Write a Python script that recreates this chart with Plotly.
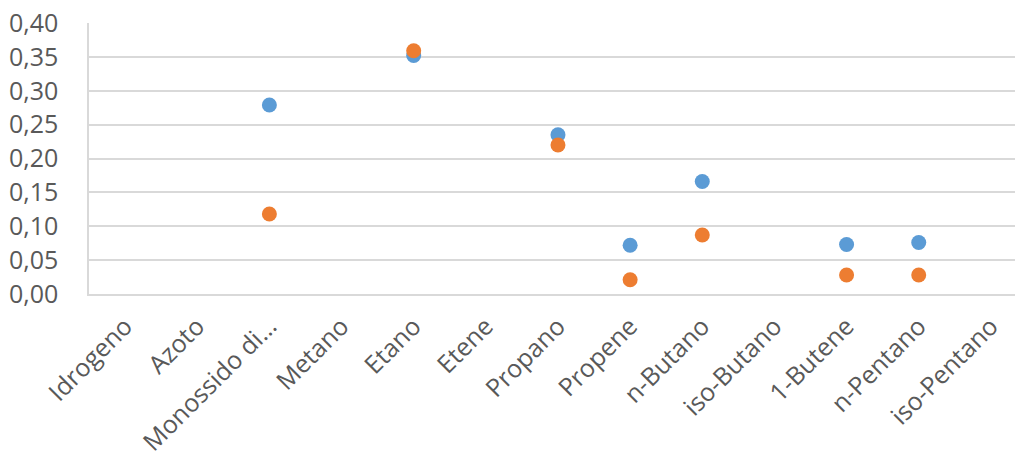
import plotly.graph_objects as go

# Gas components along the category axis
categories = [
    "Idrogeno", "Azoto", "Monossido di carbonio", "Metano", "Etano", "Etene",
    "Propano", "Propene", "n-Butano", "iso-Butano", "1-Butene", "n-Pentano",
    "iso-Pentano",
]
tick_labels = [
    "Idrogeno", "Azoto", "Monossido di…", "Metano", "Etano", "Etene",
    "Propano", "Propene", "n-Butano", "iso-Butano", "1-Butene", "n-Pentano",
    "iso-Pentano",
]

# Measured fractions for the two series (None = not detected)
serie_1 = [None, None, 0.279, None, 0.352, None, 0.235, 0.072, 0.166, None, 0.073, 0.076, None]
serie_2 = [None, None, 0.118, None, 0.359, None, 0.220, 0.021, 0.087, None, 0.028, 0.028, None]

y_ticks = [0.0, 0.05, 0.10, 0.15, 0.20, 0.25, 0.30, 0.35, 0.40]
y_tick_labels = ["0,00", "0,05", "0,10", "0,15", "0,20", "0,25", "0,30", "0,35", "0,40"]

fig = go.Figure()
fig.add_trace(go.Scatter(
    x=categories, y=serie_1, mode="markers", name="Serie1",
    marker=dict(color="#5B9BD5", size=15),
))
fig.add_trace(go.Scatter(
    x=categories, y=serie_2, mode="markers", name="Serie2",
    marker=dict(color="#ED7D31", size=15),
))

font_family = "'Open Sans', Lato, sans-serif"
fig.update_layout(
    width=1015, height=458,
    margin=dict(l=89, r=0, t=23, b=164),
    paper_bgcolor="white", plot_bgcolor="white",
    showlegend=False,
    font=dict(family=font_family, size=25, color="#595959"),
)
fig.update_xaxes(
    type="category",
    categoryorder="array", categoryarray=categories,
    tickvals=categories, ticktext=tick_labels,
    range=[-0.5, -0.5 + 926 / 72.15],
    tickangle=-45, automargin=False,
    showgrid=False, zeroline=False,
    showline=True, linecolor="#D9D9D9", linewidth=1.5,
    ticks="outside", ticklen=6, tickcolor="rgba(0,0,0,0)",
    tickfont=dict(size=25, color="#595959"),
)
fig.update_yaxes(
    range=[0, 0.4],
    tickvals=y_ticks, ticktext=y_tick_labels,
    automargin=False,
    showgrid=True, gridcolor="#D9D9D9", gridwidth=1.5,
    zeroline=False,
    showline=True, linecolor="#D9D9D9", linewidth=1.5,
    ticks="", ticklabelstandoff=24,
    tickfont=dict(size=25, color="#595959"),
)

fig.write_html("out.html")
